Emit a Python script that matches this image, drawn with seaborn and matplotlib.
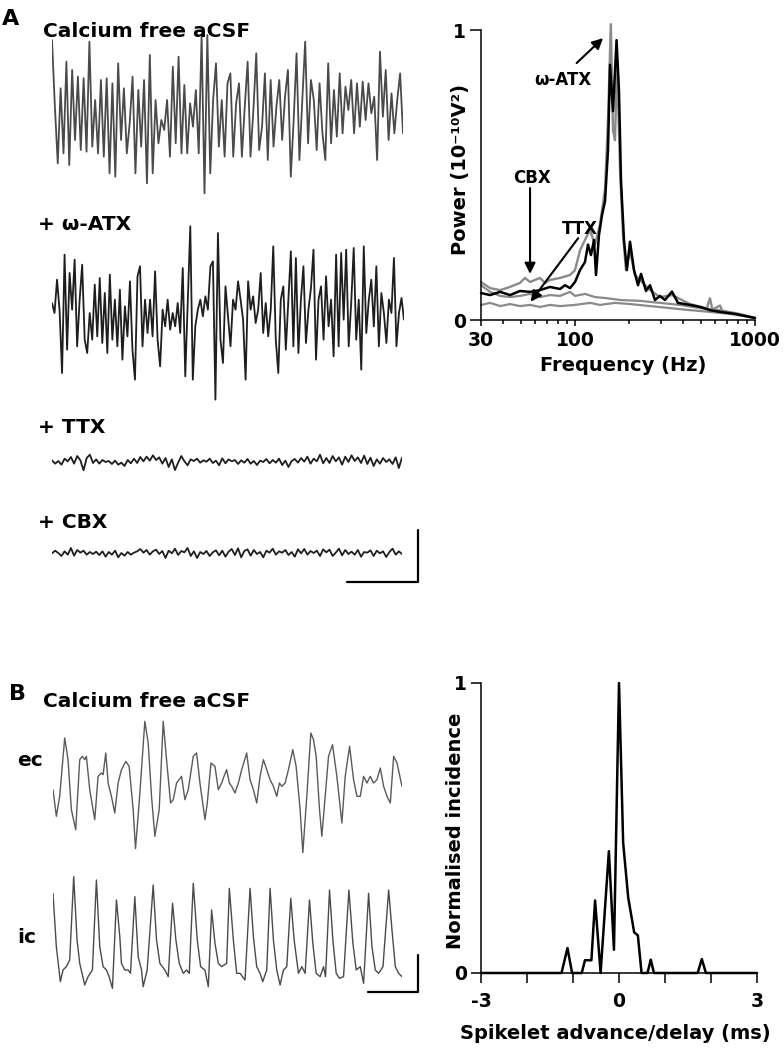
import numpy as np
import matplotlib
matplotlib.use("Agg")
import matplotlib.pyplot as plt
import seaborn as sns
from matplotlib.lines import Line2D
from matplotlib.ticker import FixedLocator, NullFormatter

# === DATA ===
# Panel A, raw traces (arbitrary units, evenly sampled)
trace_ca_free = [21, 1, -16, 6.5, -13, 14.5, -16.5, 12, -9, 10, -12, 9.5, -12.5, 20.5, -11, 3, -13, 9,
                 -14, 9.5, -19, 8, -20, 14, -9, 6.5, -13, -4, 10, -19, 6, -11, 9, -22, 16.5, -19, 3, -10,
                 -3, -6, 3, -14, 13, -10, 16, -13, 7.5, -13, 2, -5, 6, -13, 22.5, -25, 22.5, -19, 3, 14,
                 -11, 3, -14, 8, 11, -14, 2, 8, -14, 1, 14.5, -14, 0, 17, -12, -5, 11, -15, 9, -11, 1, 9,
                 -9, 4, 12, -20, -3, 17, -15, 3, 20.5, -10, 9, 3, -12, 8, -7, -15, 14, -10, 6, -8, 11, -7,
                 7, 0, 9, -7, 8, -5, 8.5, -3, 8, -1, 4, -15, 17.5, -2, 12, -9, 5, -7, 3, 11, -7]
trace_atx = [3, 0, 10, 1, -18, 17.5, -11, 12, 1, 16, -10, 4, 14.5, -8, -12, 0, -8, 8.5, -7, 10.5, -9, 6,
             -12, 11.5, -8, 4, -10, 7, -14, 2, -7, 9.5, -11, -20, 11, 14, -10, 4, -6, 4, -7, 12.5, -8, -16,
             1, -4, 4, -5, 0, -4, 3, -6, 13.5, -19, 4, 26, -20, -4, 1, 4, -1, 5, 1, 14, 15.5, -26, 24, -8,
             -15, 8, -1, -10, 4, 1, 9.5, 4, -2, -20, 9.5, 1, 5, -3, 1, 12, -6, 3, -7, 1, 20, -8, -18, 4, 8,
             -11, 4, 18.5, -10, 16.5, -12, 4, 14, -9, 1, 7.5, 19, -14, 4, 8, -8, 11, -4, 4, -13, 17.5, -10,
             18, -2, 19, -10, 3, 19.5, -8, 4, -17, 20, -6, 4, 10, -4, 14, -10, 6, 0, -9, 4, 0, 16.5, -10,
             0, 4.5, -2]
trace_ttx = [0.5, -0.5, 0.3, -0.8, 1.0, 0.2, 1.5, -0.5, 1.8, 0.5, -2.5, 1.2, 2.2, -0.3, 0.8, -0.5, 0.6,
             0.0, 0.3, -0.6, 0.4, -0.8, -0.2, -1.2, 0.6, -0.4, 1.0, -0.3, 1.5, 0.2, 1.6, 0.4, 2.0, 0.6,
             1.4, -0.5, 1.2, -1.5, 0.8, -2.4, -0.2, 1.8, 0.2, -1.0, 0.8, 0.3, 1.0, -0.2, 0.5, 0.1, 1.0,
             -0.3, 0.4, -1.0, 1.1, -0.4, 0.8, 0.2, 0.6, -0.6, 0.5, -0.2, 0.9, -0.5, 0.3, -0.9, 0.4, 0.0,
             0.9, -0.4, 0.6, -0.2, 1.0, -0.9, 0.4, -1.5, 0.3, 0.9, -0.2, 1.2, 0.1, 1.6, -0.5, 1.0, 0.2,
             2.2, -0.4, 1.2, -0.3, 1.8, 0.2, 1.4, -0.8, 1.6, 0.0, 2.0, 0.3, 1.4, -0.3, 1.9, -0.6, 1.3,
             -1.2, 0.8, -0.5, 1.2, 0.0, 0.8, -0.6, 1.4, -1.8, 1.3]
trace_cbx = [0.2, 1.0, 0.3, -0.6, 0.8, -0.2, 1.8, -0.5, 1.2, 0.4, 1.0, -0.2, 0.6, 0.0, 0.7, -0.3, 0.8,
             -0.8, 0.6, -0.2, 1.0, -1.0, 0.3, -0.5, 0.6, -0.2, 0.4, 0.8, 1.5, 0.4, 1.2, -0.2, 0.8, 1.3,
             0.0, 0.9, -1.2, 1.0, 0.2, 1.6, -0.3, 0.9, 0.5, 1.8, -0.6, 0.8, -1.2, 0.6, 0.0, 0.9, -0.6,
             0.5, 1.1, -0.4, 1.0, -0.8, 0.7, 1.5, -0.3, 1.7, -1.0, 0.9, 1.4, -0.5, 1.2, 0.0, 0.6, -1.0,
             1.0, 0.4, 1.6, -0.2, 0.8, 0.4, 1.2, -0.3, 0.6, -0.8, 1.4, 0.2, 1.5, -0.2, 0.9, 0.3, 1.0,
             -0.6, 1.4, 0.5, 1.3, -0.6, 0.4, 1.6, -0.4, 1.2, 0.0, 0.7, -0.2, 1.2, -0.8, 0.6, 0.4, 1.1,
             -0.6, 1.0, 0.2, 0.8, -0.9, 0.6, 1.6, -0.2, 0.8, 0.0]

# Panel A, power spectra: frequency (Hz) and power (1e-10 V^2)
psd_freq_ctrl = [30, 33.7, 38.3, 43.5, 49.4, 56.2, 63.8, 72.5, 82.5, 87.9, 93.7, 99.9, 106.5, 113.5, 118,
                 122.6, 127.4, 130.7, 135.8, 141, 146.7, 152.4, 156.4, 162.5, 170, 175.4, 180, 187, 194,
                 202, 212.6, 223.8, 232.5, 247.8, 261, 278, 296, 316, 345.6, 373, 435, 495, 562, 639,
                 774, 1000]
psd_ctrl = [0.093, 0.086, 0.097, 0.086, 0.10, 0.097, 0.103, 0.114, 0.107, 0.12, 0.11, 0.131, 0.172, 0.20,
            0.26, 0.224, 0.276, 0.155, 0.293, 0.36, 0.41, 0.586, 0.88, 0.72, 0.965, 0.79, 0.48, 0.276,
            0.172, 0.27, 0.172, 0.12, 0.159, 0.10, 0.12, 0.069, 0.083, 0.069, 0.098, 0.059, 0.052, 0.045,
            0.034, 0.028, 0.021, 0.007]
psd_freq_atx = [30, 33.7, 38.3, 43.5, 49.4, 52.7, 56.2, 63.8, 68.1, 72.5, 82.5, 93.7, 99.9, 106.5, 113.5,
                121, 129, 137.6, 146.7, 152.4, 158, 162.5, 166.7, 171, 177.7, 184.7, 191.9, 202, 215,
                229.6, 261, 296, 345.6, 435, 540, 562, 580, 639, 660, 774, 1000]
psd_atx = [0.131, 0.11, 0.103, 0.114, 0.128, 0.145, 0.131, 0.145, 0.128, 0.138, 0.145, 0.155, 0.172, 0.24,
           0.276, 0.31, 0.26, 0.33, 0.45, 0.69, 1.02, 0.655, 0.62, 0.9, 0.52, 0.293, 0.172, 0.24, 0.155,
           0.138, 0.103, 0.079, 0.086, 0.055, 0.04, 0.075, 0.036, 0.05, 0.03, 0.022, 0.007]
psd_freq_cbx = [30, 33.7, 38.3, 43.5, 49.4, 56.2, 63.8, 72.5, 82.5, 93.7, 99.9, 113.5, 129, 146.7, 177.7,
                229.6, 296, 383, 495, 639, 825, 1000]
psd_cbx = [0.12, 0.097, 0.083, 0.079, 0.083, 0.09, 0.079, 0.086, 0.083, 0.097, 0.083, 0.09, 0.079, 0.076,
           0.069, 0.066, 0.059, 0.052, 0.041, 0.034, 0.021, 0.007]
psd_freq_ttx = [30, 33.7, 38.3, 43.5, 49.4, 56.2, 63.8, 72.5, 82.5, 99.9, 121, 137.6, 166.7, 202, 261, 337,
                435, 562, 726, 1000]
psd_ttx = [0.052, 0.059, 0.048, 0.055, 0.048, 0.052, 0.045, 0.052, 0.048, 0.052, 0.059, 0.052, 0.059,
           0.055, 0.048, 0.041, 0.034, 0.028, 0.021, 0.007]

# Panel B, paired recording (time, value)
trace_ec = [(0, -2), (1, -10), (2, -4), (3.5, 13.5), (4.5, 7), (5.5, -8), (6.8, -14), (8, 7), (8.8, 8),
            (9.5, 7), (10, 8), (11, -2), (12.5, -11), (13.5, 2), (14.5, 3), (15, 2.5), (15.8, 9), (16.5, 0),
            (17.5, -4), (18.5, -9), (19.5, 0), (20.5, 4), (21.8, 6.5), (22.8, 5), (24, -8), (24.7, -19.7),
            (25.8, -6), (27.5, 18.5), (28.5, 12), (29.5, -4), (30.5, -16), (31.8, -8), (33, 18.5), (34, 7),
            (35.2, -6), (36, -5), (37, 0), (38.5, 2), (39.5, -5), (40.5, -2), (42, 8), (43, 9), (44, 0),
            (45.5, -11), (46.2, -6), (47.3, 6), (48.5, 5), (49.5, -2), (50.5, 0), (51.2, 2), (52, 4),
            (52.8, 0), (53.5, -1), (54.5, -3), (55.5, 0), (56.5, 4), (58, 9), (59, 1), (60, -2), (61, -6),
            (62, 2), (63, 7), (64, 4), (65, 1), (66, -1), (67, -4), (67.8, 0), (68.5, -1), (69.5, 0),
            (70.5, 4), (71.8, 10), (72.8, 5), (74, -8), (74.8, -20.9), (76, -4), (77.2, 15), (78, 13),
            (78.8, 8), (79.8, -8), (80.5, -16), (81.5, -4), (82.5, 8), (83.7, 11.5), (85, 2), (86.5, -12),
            (87.5, 2), (88.8, 11), (90, 1), (91, -4), (92, -4), (93, 2), (94, 0), (95, 2), (96, 0), (97, 1),
            (98, 4.5), (99, -1), (100, -4), (101, -6), (102, 8), (103, 6), (104.5, -1)]
trace_ic = [(0, 14), (1, -2), (2.2, -12.5), (3, -9), (4, -8), (5, -6), (6.2, 19), (7.2, 0), (8, -7),
            (9.5, -13.5), (10.5, -11), (11.8, -9), (13, 18), (14, -2), (15, -8), (16, -9), (16.8, -11),
            (17.8, -14.5), (19, 12), (20, 1), (20.5, -7), (21.5, -9), (22.5, -9), (23.2, -10), (24.5, 13),
            (25.5, -5), (26.5, -9), (27, -14), (28.2, -9), (30, 16.5), (31, 0), (32, -7), (33.5, -9),
            (34.5, -11), (35.8, 11), (36.8, 0), (37.8, -7), (39, -10), (40, -9), (40.8, -10), (42, 17),
            (43.2, 0), (44.2, -8), (45.5, -9), (46.5, -14), (47.5, 9), (48.5, -1), (49.5, -7), (50.5, -8),
            (52, -7), (52.8, 15.5), (54, 0), (55, -10), (56, -10), (57.5, -12), (59, 15.5), (60, 1),
            (61, -8), (62, -10), (62.8, -12.5), (64, -9), (65, 15.5), (66, 0), (67, -9), (68, -13.5),
            (69, -9), (70, -8), (71.2, 12.5), (72.2, 0), (73.5, -10), (74.5, -8), (75.5, -10), (76.8, 12),
            (77.8, -1), (78.8, -10), (80, -11), (81, -8), (81.6, -11), (82.8, 15), (83.8, 0), (84.8, -10),
            (85.8, -11.5), (87, -11), (88.6, 15), (89.8, -1), (90.8, -9), (92, -8), (93, -13), (94.5, 14),
            (95.5, -2), (96.5, -9), (97.5, -10), (98.8, -8), (100.5, 15), (101.5, 3), (102.5, -8),
            (103.5, -10), (104.5, -11)]

# Panel B, spikelet timing histogram (ms, normalised incidence)
hist_x = [-3, -1.25, -1.12, -1.02, -0.81, -0.74, -0.60, -0.52, -0.40, -0.22, -0.11, 0, 0.09, 0.20, 0.33,
          0.41, 0.49, 0.62, 0.69, 0.76, 1.71, 1.80, 1.89, 3]
hist_y = [0, 0, 0.086, 0, 0, 0.044, 0.044, 0.25, 0, 0.42, 0.08, 1.0, 0.45, 0.26, 0.14, 0.13, 0, 0, 0.046,
          0, 0, 0.048, 0, 0]

# === STYLE ===
sns.set_theme(style="ticks")
plt.rcParams['font.family'] = ['DejaVu Sans']
plt.rcParams['font.weight'] = 'bold'
plt.rcParams['axes.labelweight'] = 'bold'
plt.rcParams['axes.linewidth'] = 1.1
plt.rcParams['axes.edgecolor'] = 'black'
plt.rcParams['axes.labelcolor'] = 'black'
plt.rcParams['text.color'] = 'black'
plt.rcParams['xtick.color'] = 'black'
plt.rcParams['ytick.color'] = 'black'

W, H = 784, 1050
fig = plt.figure(figsize=(W / 100, H / 100), dpi=100)
GREY = '#8a8a8a'
UNIT = 10 / 3  # pixels per trace unit


def px_axes(left, top, width, height):
    return fig.add_axes([left / W, 1 - (top + height) / H, width / W, height / H])


def px_text(x, y, s, size=14.5, **kw):
    fig.text(x / W, 1 - y / H, s, fontsize=size, fontweight='bold', va='baseline', **kw)


def px_line(xs, ys, lw=1.6, color='black'):
    fig.add_artist(Line2D([x / W for x in xs], [1 - y / H for y in ys], lw=lw, color=color,
                          transform=fig.transFigure))


def draw_trace(t, v, center, left, right, color, lw):
    half = 90
    ax = px_axes(left, center - half, right - left, 2 * half)
    sns.lineplot(x=t, y=v, ax=ax, color=color, lw=lw, estimator=None, sort=False)
    ax.set_xlim(t[0], t[-1])
    ax.set_ylim(-half / UNIT, half / UNIT)
    ax.axis('off')
    return ax


# --- Panel A traces ---
for vals, center, right, color in [(trace_ca_free, 110, 403, '#4a4a4a'),
                                   (trace_atx, 313, 404, '#1e1e1e'),
                                   (trace_ttx, 462, 402, '#1e1e1e'),
                                   (trace_cbx, 554, 402, '#1e1e1e')]:
    draw_trace(np.arange(len(vals)), np.array(vals), center, 52, right, color, 1.3)

px_text(2, 25, 'A', size=16)
px_text(43, 37, 'Calcium free aCSF')
px_text(38, 230, '+ ω-ATX')
px_text(38, 433, '+ TTX')
px_text(38, 528, '+ CBX')
px_line([418, 418, 347], [530, 582, 582])

# --- Panel A power spectrum ---
ax = px_axes(481, 30, 274, 290)
ax.set_xscale('log')
for f, p, c, lw in [(psd_freq_ttx, psd_ttx, GREY, 1.6), (psd_freq_cbx, psd_cbx, GREY, 1.6),
                    (psd_freq_atx, psd_atx, GREY, 1.7), (psd_freq_ctrl, psd_ctrl, 'black', 1.8)]:
    sns.lineplot(x=f, y=p, ax=ax, color=c, lw=lw, estimator=None, sort=False)
for ln in ax.lines:
    ln.set_clip_on(False)
ax.set_xlim(30, 1000)
ax.set_ylim(0, 1)
ax.xaxis.set_major_locator(FixedLocator([30, 100, 1000]))
ax.set_xticklabels(['30', '100', '1000'])
ax.xaxis.set_minor_locator(FixedLocator([40, 50, 60, 70, 80, 90, 200, 300, 400, 500, 600, 700, 800, 900]))
ax.xaxis.set_minor_formatter(NullFormatter())
ax.set_yticks([0, 1])
ax.set_yticklabels(['0', '1'])
ax.tick_params(axis='x', which='major', length=4, width=1.1, pad=4, labelsize=13.5)
ax.tick_params(axis='x', which='minor', length=3, width=1.1)
ax.tick_params(axis='y', length=8, width=1.1, pad=3, labelsize=13.5)
for lab in ax.get_xticklabels() + ax.get_yticklabels():
    lab.set_fontweight('bold')
sns.despine(ax=ax)
ax.set_xlabel('Frequency (Hz)', fontsize=14)
ax.xaxis.set_label_coords(0.52, -0.125)
ax.set_ylabel('Power (10⁻¹⁰V²)', fontsize=14)
ax.yaxis.set_label_coords(-0.04, 0.52)

arrow = dict(arrowstyle='-|>', lw=1.5, color='black', mutation_scale=16, shrinkA=0, shrinkB=0)
ax.annotate('', xy=(143, 0.972), xytext=(102, 0.886), arrowprops=arrow, annotation_clip=False)
ax.text(86, 0.81, 'ω-ATX', ha='center', va='baseline', fontsize=12, fontweight='bold')
ax.annotate('', xy=(56.2, 0.159), xytext=(56.2, 0.455), arrowprops=arrow)
ax.text(57.6, 0.472, 'CBX', ha='center', va='baseline', fontsize=12, fontweight='bold')
ax.annotate('', xy=(56.6, 0.063), xytext=(104, 0.282), arrowprops=arrow)
ax.text(106.6, 0.297, 'TTX', ha='center', va='baseline', fontsize=12, fontweight='bold')

# --- Panel B traces ---
ec = np.array(trace_ec)
ic = np.array(trace_ic)
draw_trace(ec[:, 0], ec[:, 1], 783, 53, 402, '#5a5a5a', 1.0)
draw_trace(ic[:, 0], ic[:, 1], 940, 53, 402, '#4a4a4a', 1.0)

px_text(9, 700, 'B', size=16)
px_text(43, 707, 'Calcium free aCSF')
px_text(17, 766, 'ec')
px_text(17, 943, 'ic')
px_line([418, 418, 368], [955, 992, 992])

# --- Panel B histogram ---
ax2 = px_axes(481, 683, 276, 290)
sns.lineplot(x=hist_x, y=hist_y, ax=ax2, color='black', lw=1.8, estimator=None, sort=False)
for ln in ax2.lines:
    ln.set_clip_on(False)
ax2.set_xlim(-3, 3)
ax2.set_ylim(0, 1)
ax2.set_xticks([-3, -2, -1, 0, 1, 2, 3])
ax2.set_xticklabels(['-3', '', '', '0', '', '', '3'])
ax2.set_yticks([0, 1])
ax2.set_yticklabels(['0', '1'])
ax2.tick_params(axis='x', length=7, width=1.1, pad=7, labelsize=13.5)
ax2.tick_params(axis='y', length=7, width=1.1, pad=3, labelsize=13.5)
for lab in ax2.get_xticklabels() + ax2.get_yticklabels():
    lab.set_fontweight('bold')
sns.despine(ax=ax2)
ax2.set_xlabel('Spikelet advance/delay (ms)', fontsize=14)
ax2.xaxis.set_label_coords(0.486, -0.175)
ax2.set_ylabel('Normalised incidence', fontsize=14)
ax2.yaxis.set_label_coords(-0.058, 0.49)

fig.savefig('out.png', dpi=100, facecolor='white')
